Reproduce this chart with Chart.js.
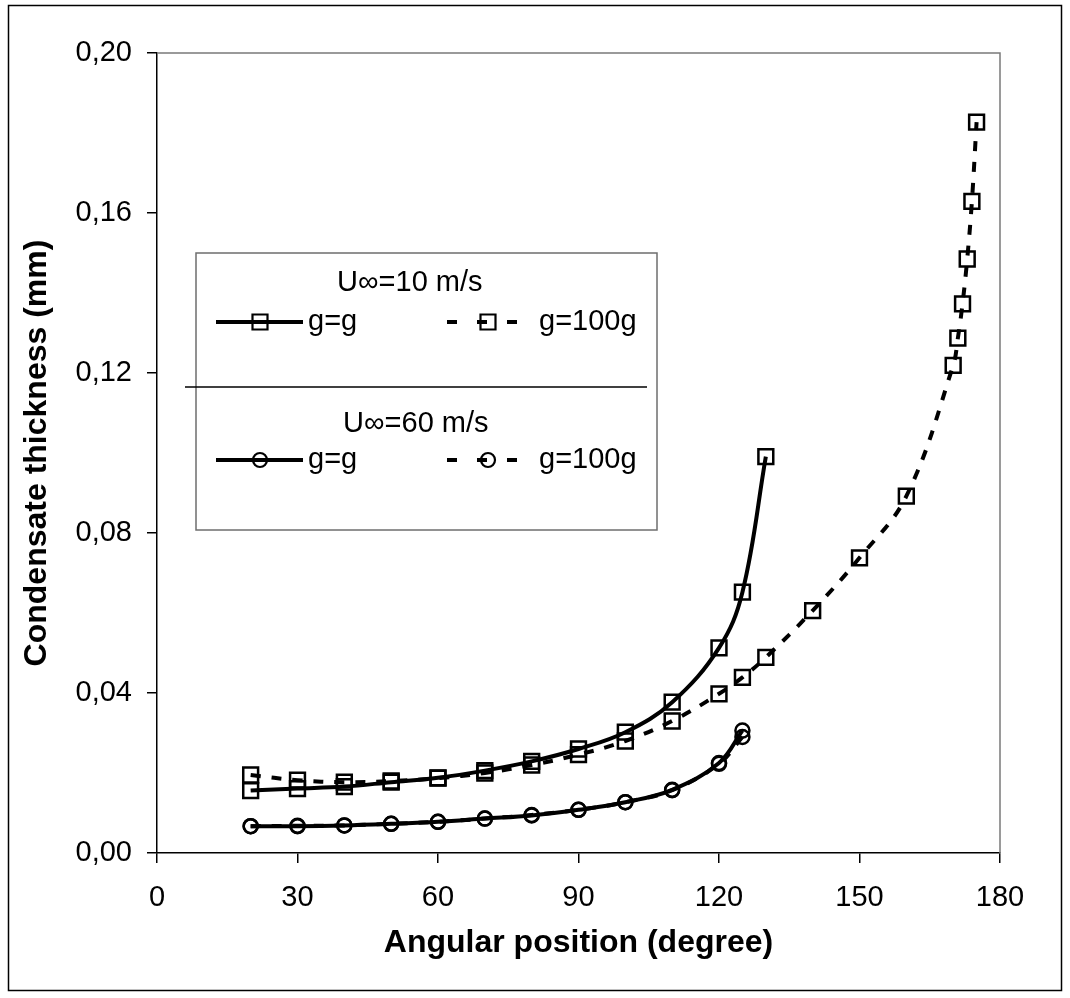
<!DOCTYPE html>
<html><head><meta charset="utf-8">
<script src="https://cdn.jsdelivr.net/npm/chart.js@4.4.0/dist/chart.umd.min.js"></script>
<style>html,body{margin:0;padding:0;background:#fff}canvas{display:block}</style>
</head><body>
<canvas id="c" width="1070" height="998"></canvas>
<script>
// ---- data ----
const xTickValues = [0, 30, 60, 90, 120, 150, 180];
const yTickValues = [0, 0.04, 0.08, 0.12, 0.16, 0.20];

const u10_gg_x = [20, 30, 40, 50, 60, 70, 80, 90, 100, 110, 120, 125, 130];
const u10_gg_y = [0.0156, 0.0161, 0.0166, 0.0177, 0.0188, 0.0206, 0.0229, 0.0260, 0.0302, 0.0377, 0.0513, 0.0652, 0.0991];

const u10_g100_x = [20, 30, 40, 50, 60, 70, 80, 90, 100, 110, 120, 125, 130, 140, 150, 160, 170, 171, 172, 173, 174, 175];
const u10_g100_y = [0.0195, 0.0182, 0.0177, 0.0180, 0.0187, 0.0200, 0.0220, 0.0246, 0.0280, 0.0330, 0.0398, 0.0439, 0.0489, 0.0606, 0.0738, 0.0892, 0.1219, 0.1287, 0.1373, 0.1485, 0.1629, 0.1827];

const u60_gg_x = [20, 30, 40, 50, 60, 70, 80, 90, 100, 110, 120, 125];
const u60_gg_y = [0.0067, 0.0067, 0.0069, 0.0073, 0.0078, 0.0086, 0.0094, 0.0108, 0.0127, 0.0158, 0.0225, 0.0306];

const u60_g100_x = [20, 30, 40, 50, 60, 70, 80, 90, 100, 110, 120, 125];
const u60_g100_y = [0.0067, 0.0068, 0.0069, 0.0073, 0.0078, 0.0086, 0.0095, 0.0108, 0.0127, 0.0157, 0.0223, 0.0290];

const groupTitles = ['U\u221E=10 m/s', 'U\u221E=60 m/s'];
const seriesNames = ['g=g', 'g=100g'];
const xTitle = 'Angular position (degree)';
const yTitle = 'Condensate thickness (mm)';

// ---- build ----
const pts = (xs, ys) => xs.map((x, i) => ({x: x, y: ys[i]}));
const FONT = "'Liberation Sans', Arial, sans-serif";
const DASH = [10, 11];

function ds(label, xs, ys, style, dashed) {
  return {
    label: label,
    data: pts(xs, ys),
    borderColor: '#000',
    backgroundColor: 'transparent',
    borderWidth: 4,
    borderDash: dashed ? DASH : [],
    tension: 0.38,
    pointStyle: style,
    pointRadius: style === 'rect' ? 10.5 : 7,
    pointBorderWidth: 2.5,
    pointBorderColor: '#000',
    pointBackgroundColor: 'rgba(0,0,0,0)',
    fill: false
  };
}

const datasets = [
  ds('U10 ' + seriesNames[0], u10_gg_x, u10_gg_y, 'rect', false),
  ds('U10 ' + seriesNames[1], u10_g100_x, u10_g100_y, 'rect', true),
  ds('U60 ' + seriesNames[0], u60_gg_x, u60_gg_y, 'circle', false),
  ds('U60 ' + seriesNames[1], u60_g100_x, u60_g100_y, 'circle', true)
];

function drawMarker(ctx, style, x, y) {
  ctx.save();
  ctx.setLineDash([]);
  ctx.lineWidth = 2.2;
  ctx.strokeStyle = '#000';
  ctx.beginPath();
  if (style === 'rect') {
    ctx.rect(x - 7.5, y - 7.5, 15, 15);
  } else {
    ctx.arc(x, y, 7, 0, Math.PI * 2);
  }
  ctx.stroke();
  ctx.restore();
}

const decor = {
  id: 'decor',
  beforeDraw(chart) {
    const ctx = chart.ctx;
    ctx.save();
    ctx.fillStyle = '#fff';
    ctx.fillRect(0, 0, chart.width, chart.height);
    ctx.restore();
  },
  afterDraw(chart) {
    const ctx = chart.ctx;
    const a = chart.chartArea;
    ctx.save();
    // outer frame
    ctx.strokeStyle = '#000';
    ctx.lineWidth = 1.5;
    ctx.strokeRect(8.5, 5.5, 1053, 985);
    // plot area top / right border
    ctx.strokeStyle = '#7a7a7a';
    ctx.lineWidth = 1.5;
    ctx.beginPath();
    ctx.moveTo(a.left, a.top);
    ctx.lineTo(a.right, a.top);
    ctx.lineTo(a.right, a.bottom);
    ctx.stroke();

    // legend box
    ctx.fillStyle = '#fff';
    ctx.fillRect(196, 253, 461, 277);
    ctx.strokeStyle = '#6e6e6e';
    ctx.lineWidth = 1.5;
    ctx.strokeRect(196, 253, 461, 277);
    // separator
    ctx.strokeStyle = '#000';
    ctx.lineWidth = 1.5;
    ctx.beginPath();
    ctx.moveTo(185, 387);
    ctx.lineTo(647, 387);
    ctx.stroke();

    ctx.fillStyle = '#000';
    ctx.font = '29px ' + FONT;
    ctx.textBaseline = 'alphabetic';
    ctx.textAlign = 'left';
    ctx.fillText(groupTitles[0], 337, 291);
    ctx.fillText(groupTitles[1], 343, 432);

    const rows = [
      {y: 322, tb: 330, style: 'rect'},
      {y: 460, tb: 468, style: 'circle'}
    ];
    rows.forEach(r => {
      // solid sample
      ctx.save();
      ctx.strokeStyle = '#000';
      ctx.lineWidth = 4;
      ctx.setLineDash([]);
      ctx.beginPath();
      ctx.moveTo(216, r.y);
      ctx.lineTo(303, r.y);
      ctx.stroke();
      ctx.restore();
      drawMarker(ctx, r.style, 260, r.y);
      ctx.fillText(seriesNames[0], 308, r.tb);
      // dashed sample
      ctx.save();
      ctx.strokeStyle = '#000';
      ctx.lineWidth = 4;
      ctx.setLineDash([10, 20]);
      ctx.beginPath();
      ctx.moveTo(447, r.y);
      ctx.lineTo(519, r.y);
      ctx.stroke();
      ctx.restore();
      drawMarker(ctx, r.style, 488, r.y);
      ctx.fillText(seriesNames[1], 539, r.tb);
    });
    ctx.restore();
  }
};

new Chart(document.getElementById('c'), {
  type: 'line',
  data: {datasets: datasets},
  options: {
    responsive: false,
    animation: false,
    devicePixelRatio: 1,
    layout: {padding: {left: 0, top: 53, right: 70, bottom: 0}},
    plugins: {legend: {display: false}, tooltip: {enabled: false}, title: {display: false}},
    scales: {
      x: {
        type: 'linear',
        min: 0, max: 180,
        afterFit(s) { s.height = 145; },
        afterBuildTicks(s) { s.ticks = xTickValues.map(v => ({value: v})); },
        grid: {drawOnChartArea: false, drawTicks: true, tickLength: 10, color: '#000', lineWidth: 1.5},
        border: {display: true, color: '#000', width: 1.5},
        ticks: {
          color: '#000', padding: 18, maxRotation: 0,
          font: {family: FONT, size: 29},
          callback: v => String(v)
        },
        title: {
          display: true, text: xTitle, color: '#000',
          font: {family: FONT, size: 32, weight: 'bold'},
          padding: {top: 0, bottom: 36}
        }
      },
      y: {
        type: 'linear',
        min: 0, max: 0.2,
        afterFit(s) { s.width = 157; },
        afterBuildTicks(s) { s.ticks = yTickValues.map(v => ({value: v})); },
        grid: {drawOnChartArea: false, drawTicks: true, tickLength: 10, color: '#000', lineWidth: 1.5},
        border: {display: true, color: '#000', width: 1.5},
        ticks: {
          color: '#000', padding: 15,
          font: {family: FONT, size: 29},
          callback: v => Number(v).toFixed(2).replace('.', ',')
        },
        title: {
          display: true, text: yTitle, color: '#000',
          font: {family: FONT, size: 32, weight: 'bold'},
          padding: {top: 18, bottom: 0}
        }
      }
    }
  },
  plugins: [decor]
});
</script>
</body></html>
